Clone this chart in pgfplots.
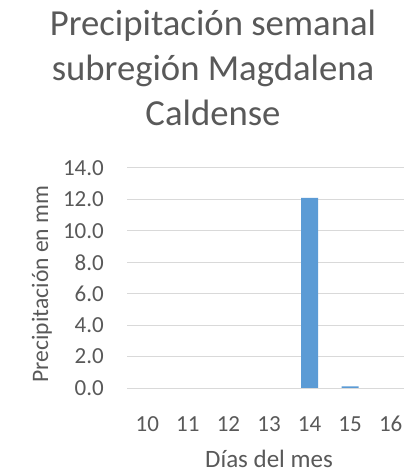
\documentclass[border=0pt]{standalone}
\usepackage{pgfplots}
\pgfplotsset{compat=1.18}
\usepackage{fontspec}
\setmainfont{Carlito}
\definecolor{txt}{HTML}{595959}
\definecolor{grd}{HTML}{D9D9D9}
\definecolor{bar}{HTML}{5B9BD5}
\begin{document}
\begin{tikzpicture}
\useasboundingbox (0,0) rectangle (404bp,473bp);
\clip (0,0) rectangle (404bp,473bp);
\begin{axis}[
  at={(127bp,85bp)}, anchor=south west,
  scale only axis, width=284bp, height=220bp,
  xmin=-0.5, xmax=6.5, ymin=0, ymax=14,
  axis line style={draw=none},
  major tick length=0pt,
  ymajorgrids, grid style={grd, line width=1bp},
  ytick={0,2,...,14},
  xtick={0,...,6}, xticklabels={10,11,12,13,14,15,16},
  yticklabel={\pgfmathprintnumber[fixed,fixed zerofill,precision=1]{\tick}},
  /pgf/number format/assume math mode=true,
  ticklabel style={font=\fontsize{23bp}{27bp}\selectfont, text=txt, inner sep=0pt},
  xticklabel style={anchor=base, yshift=-43bp},
  yticklabel style={anchor=east, xshift=-23bp},
]
\addplot[ybar, bar width=17bp, bar shift=0pt, fill=bar, draw=none] coordinates {(0,0) (1,0) (2,0) (3,0) (4,12.1) (5,0.1) (6,0)};
\end{axis}
\node[anchor=center, rotate=90, text=txt, font=\fontsize{23.6bp}{28bp}\selectfont, inner sep=0pt] at (42bp,189bp) {Precipitación en mm};
\node[anchor=base, text=txt, font=\fontsize{25bp}{30bp}\selectfont, inner sep=0pt] at (269bp,6bp) {Días del mes};
\node[anchor=base, text=txt, font=\fontsize{36.7bp}{44bp}\selectfont, inner sep=0pt] at (213bp,437bp) {Precipitación semanal};
\node[anchor=base, text=txt, font=\fontsize{36.7bp}{44bp}\selectfont, inner sep=0pt] at (213bp,392bp) {subregión Magdalena};
\node[anchor=base, text=txt, font=\fontsize{36.7bp}{44bp}\selectfont, inner sep=0pt] at (213bp,347bp) {Caldense};
\end{tikzpicture}
\end{document}
